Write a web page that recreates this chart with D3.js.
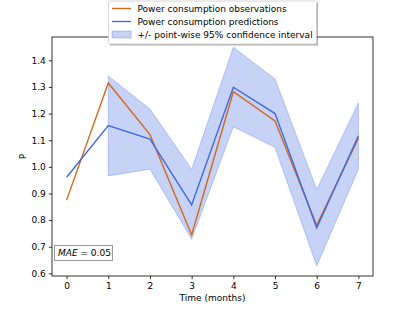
<!DOCTYPE html>
<html>
<head>
<meta charset="utf-8">
<script src="https://cdn.jsdelivr.net/npm/d3@7"></script>
<style>
  body { margin: 0; background: #fff; }
  svg { font-family: "DejaVu Sans", sans-serif; }
</style>
</head>
<body>
<svg width="415" height="311"></svg>
<script>
// Data
var months = [0, 1, 2, 3, 4, 5, 6, 7];
var observed = [0.875, 1.315, 1.121, 0.744, 1.282, 1.172, 0.780, 1.108];
var predicted = [0.961, 1.155, 1.104, 0.857, 1.299, 1.200, 0.771, 1.117];
// confidence interval only from month 1 on
var ciMonths = [1, 2, 3, 4, 5, 6, 7];
var ciUpper = [1.341, 1.217, 0.991, 1.449, 1.330, 0.915, 1.240];
var ciLower = [0.966, 0.991, 0.728, 1.151, 1.073, 0.628, 0.991];
var yTicks = [0.6, 0.7, 0.8, 0.9, 1.0, 1.1, 1.2, 1.3, 1.4];
var legendLabels = ["Power consumption observations", "Power consumption predictions", "+/- point-wise 95% confidence interval"];

var svg = d3.select("svg"),
    plotL = 52, plotR = 373, plotT = 37, plotB = 276;

var x = d3.scaleLinear().domain([-0.35, 7.35]).range([plotL, plotR]);
var y = d3.scaleLinear().domain([0.59, 1.4876]).range([plotB, plotT]);

var orange = "#d2691e", blue = "#4169e1";

// confidence band
var ci = ciMonths.map(function(m, i) { return {m: m, lo: ciLower[i], hi: ciUpper[i]}; });
svg.append("path")
    .datum(ci)
    .attr("fill", blue)
    .attr("fill-opacity", 0.3)
    .attr("stroke", blue)
    .attr("stroke-opacity", 0.3)
    .attr("stroke-width", 1)
    .attr("d", d3.area()
        .x(function(d) { return x(d.m); })
        .y0(function(d) { return y(d.lo); })
        .y1(function(d) { return y(d.hi); }));

var line = d3.line()
    .x(function(d, i) { return x(months[i]); })
    .y(function(d) { return y(d); });

svg.append("path").datum(observed)
    .attr("fill", "none").attr("stroke", orange).attr("stroke-width", 1.4)
    .attr("d", line);
svg.append("path").datum(predicted)
    .attr("fill", "none").attr("stroke", blue).attr("stroke-width", 1.4)
    .attr("d", line);

// axes
var xAxis = svg.append("g")
    .attr("transform", "translate(0," + plotB + ")")
    .call(d3.axisBottom(x).tickValues(months).tickFormat(d3.format("d")).tickSize(3.2).tickPadding(3));
var yAxis = svg.append("g")
    .attr("transform", "translate(" + plotL + ",0)")
    .call(d3.axisLeft(y).tickValues(yTicks).tickFormat(d3.format(".1f")).tickSize(3.2).tickPadding(3));
[xAxis, yAxis].forEach(function(a) {
    a.select(".domain").remove();
    a.selectAll("text").attr("font-size", 9).attr("fill", "#000").attr("font-family", "DejaVu Sans");
    a.selectAll("line").attr("stroke", "#000").attr("stroke-width", 0.8);
});

// frame
svg.append("rect")
    .attr("x", plotL).attr("y", plotT)
    .attr("width", plotR - plotL).attr("height", plotB - plotT)
    .attr("fill", "none").attr("stroke", "#000").attr("stroke-width", 0.8);

// axis labels
svg.append("text")
    .attr("x", (plotL + plotR) / 2).attr("y", 301)
    .attr("text-anchor", "middle").attr("font-size", 9)
    .text("Time (months)");
svg.append("text")
    .attr("transform", "translate(25.5," + ((plotT + plotB) / 2) + ") rotate(-90)")
    .attr("text-anchor", "middle").attr("font-size", 9)
    .text("P");

// MAE box
var mae = svg.append("g");
mae.append("rect")
    .attr("x", 54.5).attr("y", 245.5).attr("width", 58).attr("height", 15)
    .attr("fill", "#fff").attr("stroke", "#999").attr("stroke-width", 1);
var maeText = mae.append("text").attr("x", 58).attr("y", 256).attr("font-size", 9);
maeText.append("tspan").attr("font-style", "italic").text("MAE");
maeText.append("tspan").text(" = 0.05");

// legend
var lg = svg.append("g");
lg.append("rect")
    .attr("x", 110).attr("y", 2.5).attr("width", 208).attr("height", 43)
    .attr("fill", "#000").attr("fill-opacity", 0.3);
lg.append("rect")
    .attr("x", 108.5).attr("y", 1).attr("width", 208).attr("height", 43)
    .attr("rx", 1.5)
    .attr("fill", "#fff").attr("stroke", "#ccc").attr("stroke-width", 0.8);
var rowY = [8.5, 21.5, 34.5];
lg.append("line").attr("x1", 112).attr("x2", 131).attr("y1", rowY[0]).attr("y2", rowY[0])
    .attr("stroke", orange).attr("stroke-width", 1.4);
lg.append("line").attr("x1", 112).attr("x2", 131).attr("y1", rowY[1]).attr("y2", rowY[1])
    .attr("stroke", blue).attr("stroke-width", 1.4);
lg.append("rect").attr("x", 112).attr("y", rowY[2] - 3.5).attr("width", 19).attr("height", 7)
    .attr("fill", blue).attr("fill-opacity", 0.3)
    .attr("stroke", blue).attr("stroke-opacity", 0.3);
lg.selectAll("text.lab").data(legendLabels).enter().append("text")
    .attr("class", "lab")
    .attr("x", 137.5).attr("y", function(d, i) { return rowY[i] + 3.3; })
    .attr("font-size", 9)
    .text(function(d) { return d; });
</script>
</body>
</html>
